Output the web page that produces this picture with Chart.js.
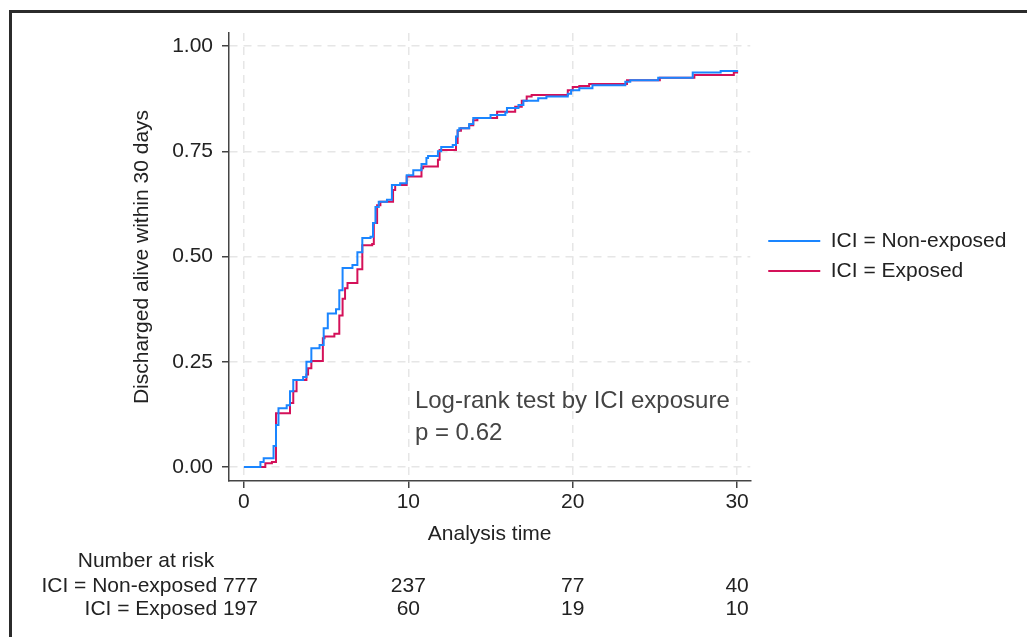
<!DOCTYPE html>
<html>
<head>
<meta charset="utf-8">
<title>Discharged alive within 30 days</title>
<script src="https://cdn.jsdelivr.net/npm/chart.js@4.4.1/dist/chart.umd.min.js"></script>
<style>
  html, body { margin: 0; padding: 0; background: #fff; }
  #wrap { position: relative; width: 1027px; height: 637px; }
  #frame {
    position: absolute; left: 9px; top: 10px; right: 0; bottom: 0;
    border-top: 3px solid #2b2b2b; border-left: 3px solid #2b2b2b;
    pointer-events: none;
  }
</style>
</head>
<body>
<div id="wrap">
  <canvas id="kmChart"></canvas>
  <div id="frame"></div>
</div>
<script>
// Data
const seriesNames = ['ICI = Non-exposed', 'ICI = Exposed'];

const timeNonExposed = [0, 1.0, 1.2, 1.8, 1.95, 2.1, 2.6, 2.8, 3.0, 3.6, 3.8, 4.1, 4.6, 4.85, 5.1, 5.6, 5.8, 6.0, 6.6, 6.9,
  7.2, 7.7, 7.85, 8.0, 8.2, 8.7, 9.0, 9.5, 9.9, 10.3, 10.8, 11.1, 11.2, 11.8, 12.0, 12.7, 12.9, 13.0, 13.1, 13.7,
  13.95, 15.0, 15.9, 16.0, 16.7, 17.0, 17.9, 18.4, 19.7, 19.9, 20.4, 21.2, 23.2, 23.5, 25.2, 27.3, 29.0, 30];
const survNonExposed = [0, 0.012, 0.021, 0.05, 0.10, 0.14, 0.147, 0.18, 0.207, 0.214, 0.25, 0.282, 0.29, 0.33, 0.365, 0.375, 0.42, 0.473, 0.48, 0.51,
  0.544, 0.547, 0.58, 0.618, 0.63, 0.635, 0.67, 0.674, 0.693, 0.705, 0.72, 0.734, 0.739, 0.75, 0.76, 0.765, 0.785, 0.80, 0.805, 0.815,
  0.829, 0.836, 0.842, 0.853, 0.86, 0.87, 0.876, 0.88, 0.887, 0.895, 0.90, 0.907, 0.915, 0.919, 0.925, 0.937, 0.941, 0.943];

const timeExposed = [0, 1.3, 1.7, 1.95, 2.8, 3.0, 3.2, 3.8, 3.9, 4.1, 4.8, 4.9, 5.5, 5.8, 6.0, 6.15, 6.3, 6.9, 7.2, 7.8,
  7.9, 8.1, 8.3, 9.07, 9.2, 9.9, 10.8, 10.9, 11.8, 11.9, 12.9, 13.0, 13.2, 13.7, 13.95, 14.2, 15.4, 16.5, 16.9, 17.2,
  17.5, 19.7, 20.0, 20.4, 21.0, 23.3, 25.3, 27.4, 29.8, 30];
const survExposed = [0, 0.009, 0.012, 0.128, 0.152, 0.18, 0.207, 0.22, 0.235, 0.252, 0.306, 0.31, 0.317, 0.36, 0.40, 0.425, 0.437, 0.47, 0.527, 0.53,
  0.58, 0.622, 0.63, 0.658, 0.67, 0.69, 0.71, 0.714, 0.73, 0.753, 0.77, 0.799, 0.805, 0.812, 0.824, 0.829, 0.844, 0.856, 0.87, 0.88,
  0.884, 0.895, 0.903, 0.905, 0.91, 0.919, 0.925, 0.931, 0.937, 0.942];

const xTicks = [0, 10, 20, 30];
const yTicks = [0, 0.25, 0.5, 0.75, 1];

const riskTimes = [0, 10, 20, 30];
const riskNonExposed = [777, 237, 77, 40];
const riskExposed = [197, 60, 19, 10];

const annotLines = ['Log-rank test by ICI exposure', 'p = 0.62'];

// Styling
const FONT = '"Liberation Sans", Arial, Helvetica, sans-serif';
const blue = '#1a85ff';
const red = '#d41159';
const axisColor = '#444';
const gridColor = '#e6e6e6';
const textColor = '#222';

const toPoints = (ts, vs) => ts.map((t, i) => ({ x: t, y: vs[i] }));

// Annotation and number-at-risk table, placed through the scales
const extrasPlugin = {
    id: 'kmExtras',
    afterLayout(chart) {
        // move the legend next to the plot region, like Stata does
        const lg = chart.legend;
        lg.left += 9;
        lg.right = chart.width;
        lg.top -= 39;
        lg.bottom -= 39;
    },
    afterDraw(chart) {
        const { ctx } = chart;
        const xs = chart.scales.x;
        const ys = chart.scales.y;
        ctx.save();

        // log-rank annotation
        ctx.font = '24px ' + FONT;
        ctx.fillStyle = '#444';
        ctx.textAlign = 'left';
        ctx.textBaseline = 'alphabetic';
        const ax = xs.getPixelForValue(10.4);
        ctx.fillText(annotLines[0], ax, ys.getPixelForValue(0.140));
        ctx.fillText(annotLines[1], ax, ys.getPixelForValue(0.064));

        // number at risk
        ctx.font = '21px ' + FONT;
        ctx.fillStyle = textColor;
        ctx.textBaseline = 'alphabetic';
        const base = xs.bottom;
        ctx.textAlign = 'center';
        ctx.fillText('Number at risk', 146, base + 10);
        const rows = [riskNonExposed, riskExposed];
        rows.forEach((row, r) => {
            const y = base + 35 + r * 23;
            ctx.textAlign = 'right';
            ctx.fillText(seriesNames[r] + ' ' + row[0], xs.getPixelForValue(riskTimes[0]) + 14, y);
            ctx.textAlign = 'center';
            for (let i = 1; i < riskTimes.length; i++) {
                ctx.fillText(String(row[i]), xs.getPixelForValue(riskTimes[i]), y);
            }
        });
        ctx.restore();
    }
};

const ctx = document.getElementById('kmChart').getContext('2d');
const kmChart = new Chart(ctx, {
    type: 'line',
    data: {
        datasets: [
            {
                label: seriesNames[0],
                data: toPoints(timeNonExposed, survNonExposed),
                borderColor: blue,
                backgroundColor: blue,
                borderWidth: 2,
                stepped: 'before',
                pointRadius: 0,
                fill: false
            },
            {
                label: seriesNames[1],
                data: toPoints(timeExposed, survExposed),
                borderColor: red,
                backgroundColor: red,
                borderWidth: 2,
                stepped: 'before',
                pointRadius: 0,
                fill: false
            }
        ]
    },
    options: {
        responsive: true,
        maintainAspectRatio: false,
        animation: false,
        layout: {
            padding: { left: 121, top: 33, right: 67, bottom: 80 }
        },
        plugins: {
            tooltip: { enabled: false },
            legend: {
                position: 'right',
                labels: {
                    boxWidth: 52,
                    boxHeight: 2,
                    padding: 9,
                    color: textColor,
                    font: { family: FONT, size: 21 },
                    generateLabels: (chart) =>
                        Chart.defaults.plugins.legend.labels.generateLabels(chart)
                            .map(item => ({ ...item, fillStyle: item.strokeStyle, lineWidth: 0 }))
                }
            }
        },
        scales: {
            x: {
                type: 'linear',
                min: -0.91,
                max: 30.8,
                afterBuildTicks: (scale) => { scale.ticks = xTicks.map(v => ({ value: v })); },
                afterFit: (scale) => { scale.height = 76; },
                ticks: {
                    color: textColor,
                    font: { family: FONT, size: 21 },
                    padding: 2,
                    maxRotation: 0,
                    callback: (v) => String(v)
                },
                grid: {
                    color: gridColor,
                    lineWidth: 1.5,
                    tickLength: 7,
                    tickColor: axisColor,
                    tickWidth: 1.5
                },
                border: { color: axisColor, width: 1.5, dash: [8, 6] },
                title: {
                    display: true,
                    text: 'Analysis time',
                    color: textColor,
                    font: { family: FONT, size: 21 },
                    padding: { top: 0, bottom: 10 }
                }
            },
            y: {
                type: 'linear',
                min: -0.033,
                max: 1.031,
                afterBuildTicks: (scale) => { scale.ticks = yTicks.map(v => ({ value: v })); },
                afterFit: (scale) => { scale.width = 108; },
                ticks: {
                    color: textColor,
                    font: { family: FONT, size: 21 },
                    padding: 9,
                    callback: (v) => Number(v).toFixed(2)
                },
                grid: {
                    color: gridColor,
                    lineWidth: 1.5,
                    tickLength: 7,
                    tickColor: axisColor,
                    tickWidth: 1.5
                },
                border: { color: axisColor, width: 1.5, dash: [8, 6] },
                title: {
                    display: true,
                    text: 'Discharged alive within 30 days',
                    color: textColor,
                    font: { family: FONT, size: 21 },
                    padding: { top: 9, bottom: 0 }
                }
            }
        }
    },
    plugins: [extrasPlugin]
});
</script>
</body>
</html>
